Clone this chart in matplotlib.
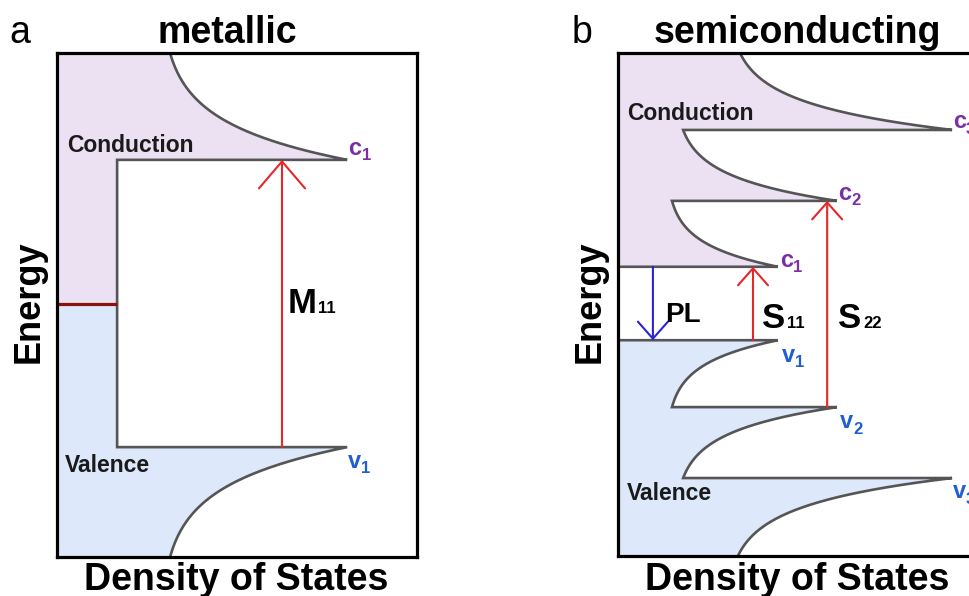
import numpy as np
import matplotlib
matplotlib.use('Agg')
import matplotlib.pyplot as plt
from matplotlib.patches import FancyArrowPatch

plt.rcParams['font.family'] = ['Liberation Sans', 'DejaVu Sans']

# ---------------- data (energy 0..1 bottom->top, DOS 0..1 left->right) ----------------
# metallic tube
metal_band_labels = ['c', 'v']
metal_band_E = [0.788, 0.218]          # c1, v1 band edges
metal_peak_dos = [0.806, 0.806]        # van Hove peak heights
metal_tail_dos = [0.314, 0.314]        # DOS far from the edge (top / bottom of panel)
metal_plateau_dos = 0.167              # constant DOS at the Fermi level
metal_fermi_E = 0.502
metal_transition_dos = 0.625           # M11 arrow position

# semiconducting tube
semi_cond_E = [0.575, 0.706, 0.847]    # c1, c2, c3
semi_cond_peak = [0.444, 0.608, 0.928]
semi_cond_tail = [0.150, 0.181, 0.339]
semi_val_E = [0.429, 0.296, 0.155]     # v1, v2, v3
semi_val_peak = [0.444, 0.608, 0.928]
semi_val_tail = [0.150, 0.181, 0.333]
semi_sub_labels = ['1', '2', '3']
pl_dos, s11_dos, s22_dos = 0.097, 0.375, 0.581

# ---------------- styles ----------------
COND_FILL = '#ece1f3'
VAL_FILL = '#dde8fa'
BAND = '#555555'
FERMI = '#8b1010'
RED = '#e5262b'
BLUE = '#2a22d6'
PURPLE = '#7b2fa5'
VBLUE = '#1f5fd1'

TAU = 0.35


def vhs(E0, E1, peak, tail, n=200):
    """Van Hove-like DOS branch from band edge E0 (peak) to E1 (tail)."""
    t = np.linspace(0, 1, n)
    g = (np.exp(-t / TAU) - np.exp(-1 / TAU)) / (1 - np.exp(-1 / TAU))
    return tail + (peak - tail) * g, E0 + (E1 - E0) * t


W, H = 969, 596
fig = plt.figure(figsize=(W / 100, H / 100), dpi=100)
ax_a = fig.add_axes([57 / W, 39 / H, 360 / W, 504 / H])
ax_b = fig.add_axes([618 / W, 40 / H, 360 / W, 503 / H])
for ax in (ax_a, ax_b):
    ax.set_xlim(0, 1)
    ax.set_ylim(0, 1)
    ax.set_xticks([])
    ax.set_yticks([])
    for sp in ax.spines.values():
        sp.set_linewidth(2.3)
        sp.set_color('black')
        sp.set_zorder(5)


def sub_label(ax, x, y, main, sub, color, size, subsize, dx, dy):
    ax.text(x, y, main, color=color, fontsize=size, fontweight='bold',
            ha='left', va='baseline', zorder=6)
    ax.annotate(sub, xy=(x, y), xycoords='data', xytext=(dx, dy),
                textcoords='offset points', color=color, fontsize=subsize,
                fontweight='bold', ha='left', va='baseline', zorder=6)


def arrow(ax, x, y0, y1, color, hl, hw, lw=1.5):
    ax.add_patch(FancyArrowPatch((x, y0), (x, y1),
                                 arrowstyle=f'->,head_length={hl},head_width={hw}',
                                 mutation_scale=10, color=color, lw=lw,
                                 shrinkA=0, shrinkB=0, zorder=4))


# ================= panel a: metallic =================
Ec, Ev = metal_band_E
xc, yc = vhs(Ec, 1.0, metal_peak_dos[0], metal_tail_dos[0])
xv, yv = vhs(Ev, 0.0, metal_peak_dos[1], metal_tail_dos[1])
pl = metal_plateau_dos
EF = metal_fermi_E

cond_x = np.concatenate([[0, 0], xc[::-1], [pl, pl]])
cond_y = np.concatenate([[EF, 1], yc[::-1], [Ec, EF]])
ax_a.fill(cond_x, cond_y, color=COND_FILL, lw=0, zorder=1)
val_x = np.concatenate([[0, pl, pl], xv, [0]])
val_y = np.concatenate([[EF, EF, Ev], yv, [0]])
ax_a.fill(val_x, val_y, color=VAL_FILL, lw=0, zorder=1)

out_x = np.concatenate([xc[::-1], [pl, pl], xv])
out_y = np.concatenate([yc[::-1], [Ec, Ev], yv])
ax_a.plot(out_x, out_y, color=BAND, lw=1.9, zorder=3, solid_joinstyle='miter')
ax_a.plot([0, pl], [EF, EF], color=FERMI, lw=2.3, zorder=3, solid_capstyle='butt')

arrow(ax_a, metal_transition_dos, Ev, Ec, RED, 1.94, 1.66, lw=1.5)
sub_label(ax_a, 0.642, 0.484, 'M', '11', 'black', 25, 12, 21.5, 0)

ax_a.text(0.028, 0.804, 'Conduction', fontsize=16.5, fontweight='bold',
          color='#1a1a1a', ha='left', va='baseline', zorder=6)
ax_a.text(0.022, 0.169, 'Valence', fontsize=16.5, fontweight='bold',
          color='#1a1a1a', ha='left', va='baseline', zorder=6)
sub_label(ax_a, 0.81, 0.798, metal_band_labels[0], '1', PURPLE, 17, 12, 9.5, -4)
sub_label(ax_a, 0.808, 0.177, metal_band_labels[1], '1', VBLUE, 17, 12, 9.5, -4)

# ================= panel b: semiconducting =================
cx, cy = [0.0], [semi_cond_E[0]]
for i in range(len(semi_cond_E)):
    nxt = semi_cond_E[i + 1] if i + 1 < len(semi_cond_E) else 1.0
    x, y = vhs(semi_cond_E[i], nxt, semi_cond_peak[i], semi_cond_tail[i])
    cx.extend(x)
    cy.extend(y)
vx, vy = [0.0], [semi_val_E[0]]
for i in range(len(semi_val_E)):
    nxt = semi_val_E[i + 1] if i + 1 < len(semi_val_E) else 0.0
    x, y = vhs(semi_val_E[i], nxt, semi_val_peak[i], semi_val_tail[i])
    vx.extend(x)
    vy.extend(y)

ax_b.fill(cx + [0.0], cy + [1.0], color=COND_FILL, lw=0, zorder=1)
ax_b.fill(vx + [0.0], vy + [0.0], color=VAL_FILL, lw=0, zorder=1)
ax_b.plot(cx, cy, color=BAND, lw=1.9, zorder=3, solid_joinstyle='miter')
ax_b.plot(vx, vy, color=BAND, lw=1.9, zorder=3, solid_joinstyle='miter')

arrow(ax_b, pl_dos, semi_cond_E[0], semi_val_E[0], BLUE, 1.22, 1.08, lw=1.5)
arrow(ax_b, s11_dos, semi_val_E[0], semi_cond_E[0], RED, 1.22, 1.08, lw=1.5)
arrow(ax_b, s22_dos, semi_val_E[1], semi_cond_E[1], RED, 1.22, 1.08, lw=1.5)

ax_b.text(0.131, 0.465, 'PL', fontsize=20, fontweight='bold', color='black',
          ha='left', va='baseline', zorder=6)
sub_label(ax_b, 0.400, 0.453, 'S', '11', 'black', 25, 12, 18, 0)
sub_label(ax_b, 0.611, 0.453, 'S', '22', 'black', 25, 12, 18, 0)

ax_b.text(0.025, 0.867, 'Conduction', fontsize=16.5, fontweight='bold',
          color='#1a1a1a', ha='left', va='baseline', zorder=6)
ax_b.text(0.025, 0.111, 'Valence', fontsize=16.5, fontweight='bold',
          color='#1a1a1a', ha='left', va='baseline', zorder=6)
c_lab_pos = [(0.45, 0.575), (0.611, 0.708), (0.93, 0.851)]
v_lab_pos = [(0.456, 0.386), (0.617, 0.254), (0.93, 0.115)]
for (x, y), s in zip(c_lab_pos, semi_sub_labels):
    sub_label(ax_b, x, y, 'c', s, PURPLE, 17, 12, 9.5, -4)
for (x, y), s in zip(v_lab_pos, semi_sub_labels):
    sub_label(ax_b, x, y, 'v', s, VBLUE, 17, 12, 9.5, -4)

# ================= figure-level text =================
fig.text(227 / W, 1 - 43 / H, 'metallic', fontsize=27, fontweight='bold',
         ha='center', va='baseline')
fig.text(797 / W, 1 - 43 / H, 'semiconducting', fontsize=27, fontweight='bold',
         ha='center', va='baseline')
fig.text(9 / W, 1 - 43 / H, 'a', fontsize=27, ha='left', va='baseline')
fig.text(572 / W, 1 - 43 / H, 'b', fontsize=27, ha='left', va='baseline')
fig.text(236 / W, 1 - 590 / H, 'Density of States', fontsize=27, fontweight='bold',
         ha='center', va='baseline')
fig.text(797 / W, 1 - 590 / H, 'Density of States', fontsize=27, fontweight='bold',
         ha='center', va='baseline')
fig.text(29 / W, 1 - 302 / H, 'Energy', fontsize=26, fontweight='bold',
         ha='center', va='center', rotation=90)
fig.text(590 / W, 1 - 302 / H, 'Energy', fontsize=26, fontweight='bold',
         ha='center', va='center', rotation=90)

fig.savefig('out.png', dpi=100)
